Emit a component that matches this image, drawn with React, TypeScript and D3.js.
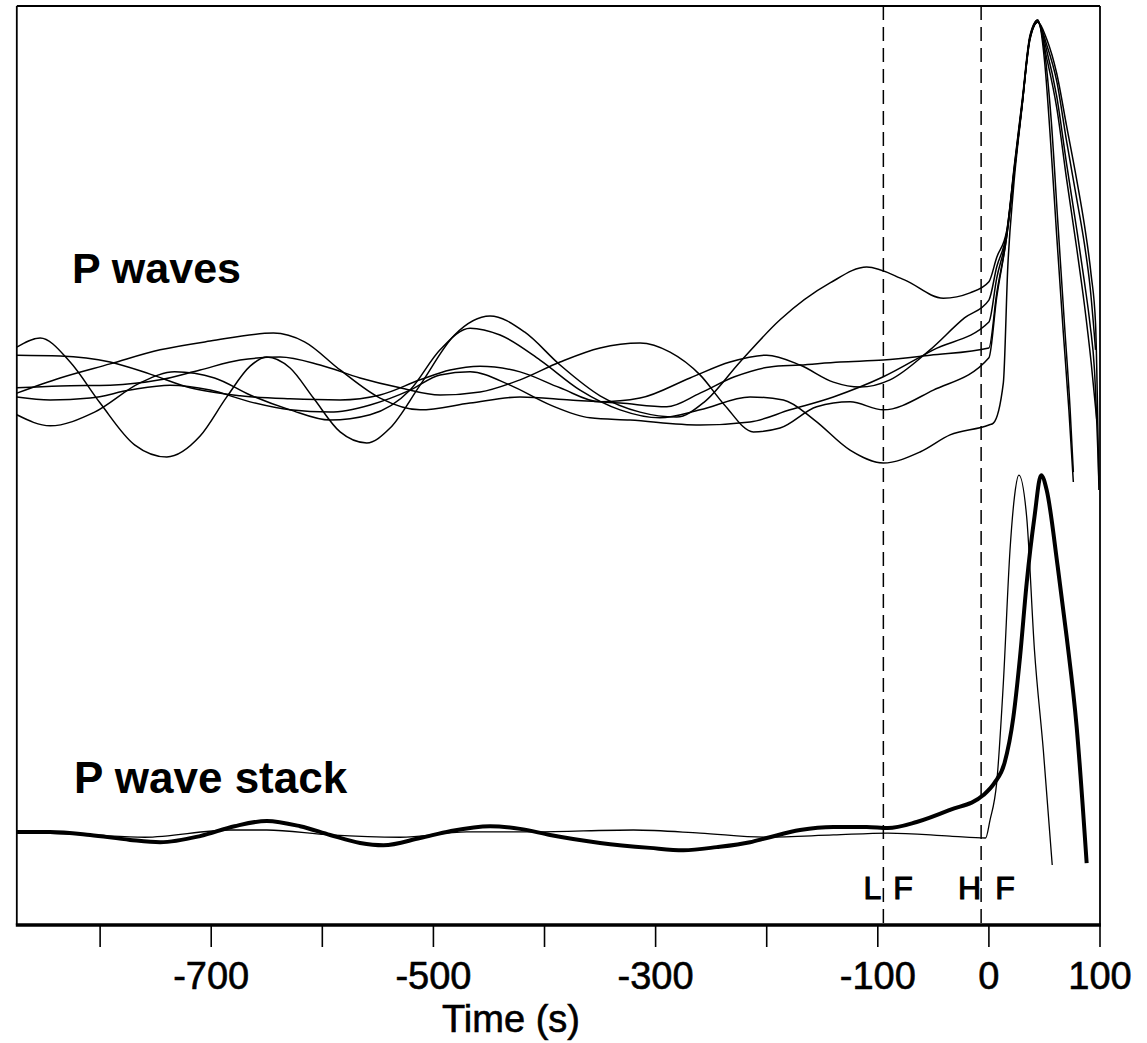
import React from "react";
import * as d3 from "d3";

// ---------- data (time in s, amplitude in % of peak) ----------
const T_MIN = -875;
const T_MAX = 100;
const AMP_MIN = -138.2;
const AMP_MAX = 103.7;
const STACK_OFFSET = -114;

const tickValues = [-800, -700, -600, -500, -400, -300, -200, -100, 0, 100];
const tickLabels = ["", "-700", "", "-500", "", "-300", "", "-100", "0", "100"];

const lowFilterTime = -95;
const highFilterTime = -7;

const traceA: [number, number][] = [
  [-875, 13.9], [-854, 16.3], [-827, 10.0], [-800, -0.8], [-769, -11.8], [-740, -15.0],
  [-710, -9.5], [-686, 0.8], [-665, 8.9], [-650, 11.3], [-629, 8.4], [-608, 0.5],
  [-584, -8.4], [-560, -11.3], [-539, -7.4], [-512, 3.9], [-481, 17.1], [-449, 22.1],
  [-418, 17.9], [-386, 9.2], [-350, 1.1], [-314, -3.2], [-281, -4.5], [-256, -0.5],
  [-224, 10.0], [-188, 21.1], [-143, 30.8], [-110, 35.0], [-76, 31.6], [-41, 26.8],
  [-17, 28.2], [0, 31.1], [7, 37.5], [16, 44.5], [23, 62], [30, 79], [37, 96],
  [44, 100], [50, 89.5], [55, 70.3], [61, 43.4], [67, 17.6], [72, -2.6], [76, -21.6],
];

const traceB: [number, number][] = [
  [-875, 1.8], [-836, 5.8], [-791, 9.5], [-746, 13.2], [-701, 15.5], [-644, 17.6],
  [-616, 15.3], [-584, 7.9], [-548, 0.5], [-512, -2.6], [-467, -0.8], [-422, 0.8],
  [-377, 0], [-332, -0.8], [-290, -1.8], [-260, 1.8], [-229, 6.1], [-197, 8.7],
  [-170, 9.2], [-134, 10.0], [-95, 10.5], [-53, 11.8], [0, 13.7], [7, 28], [16, 43],
  [23, 60.5], [30, 78], [37, 95], [44, 99.5], [52, 95], [61, 86], [70, 72],
  [79, 58], [86, 46], [92, 33], [96, 20], [99, -23.7],
];

const traceC: [number, number][] = [
  [-875, -3.9], [-845, -6.8], [-805, -3.2], [-764, 4.5], [-733, 7.4], [-697, 5.8],
  [-665, 1.3], [-629, -2.6], [-593, -5.3], [-557, -3.9], [-521, 2.6], [-494, 13.2],
  [-467, 18.9], [-440, 17.1], [-404, 10.5], [-368, 2.6], [-332, -2.6], [-296, -4.7],
  [-260, -2.6], [-215, 0.8], [-185, 0], [-157, -5.3], [-125, -13.2], [-95, -16.6],
  [-62, -13.7], [-35, -9.2], [0, -6.6], [4, -6.1], [13, 4.5], [17, 35], [22, 55.3],
  [30, 77.6], [37, 95.5], [44, 99.5], [52, 92], [61, 80], [70, 62], [79, 45],
  [86, 31], [91, 20], [95, 8], [99, -21.1],
];

const traceD: [number, number][] = [
  [-875, 11.8], [-836, 11.6], [-791, 10.0], [-755, 6.8], [-719, 3.2], [-674, 1.1],
  [-629, 0.3], [-584, 0], [-548, 1.3], [-512, 5.3], [-485, 7.9], [-458, 8.9],
  [-422, 7.4], [-386, 3.2], [-350, -0.5], [-314, 0.5], [-269, 5.8], [-233, 10.0],
  [-200, 11.8], [-170, 9.2], [-140, 4.7], [-116, 3.4], [-89, 5.3], [-53, 13.2],
  [-22, 21.6], [0, 26.3], [7, 35], [16, 44], [23, 61.5], [30, 78.5], [37, 95.5],
  [44, 100], [50, 92], [56, 74], [62, 47], [68, 20], [73, -2], [76, -19],
];

const traceE: [number, number][] = [
  [-875, 3.2], [-836, 3.7], [-791, 3.9], [-746, 5.3], [-710, 7.9], [-674, 10.5],
  [-638, 11.3], [-602, 9.2], [-566, 5.8], [-530, 3.2], [-494, 1.3], [-458, 2.1],
  [-422, 5.3], [-386, 10.0], [-350, 13.7], [-314, 15.0], [-287, 12.6], [-260, 6.6],
  [-238, -1.3], [-212, -8.4], [-188, -7.4], [-155, -1.8], [-125, -0.5], [-95, -2.6],
  [-50, 2.6], [0, 11.1], [7, 27], [16, 43], [23, 60.5], [30, 78], [37, 95],
  [44, 99.5], [52, 93.5], [61, 84], [70, 68], [79, 53], [86, 41], [91, 30],
  [96, 13.2],
];

const traceF: [number, number][] = [
  [-875, 0.8], [-845, 0], [-809, 0.5], [-773, 2.6], [-737, 3.9], [-701, 2.6],
  [-665, -0.5], [-629, -2.6], [-593, -3.2], [-557, -1.3], [-521, 2.6], [-494, 6.6],
  [-467, 7.4], [-431, 3.9], [-395, -1.3], [-359, -4.7], [-323, -5.3], [-260, -6.6],
  [-215, -5.8], [-179, -2.6], [-140, 0.8], [-95, 6.1], [-50, 13.2], [0, 20.5],
  [7, 32], [16, 43.5], [23, 61], [30, 78], [37, 95.5], [44, 99.5], [52, 90],
  [61, 77], [70, 58], [79, 40], [86, 25], [92, 10], [97, -5],
];

const stackThick: [number, number][] = [
  [-875, 0.3], [-845, 0.3], [-809, -0.5], [-773, -1.8], [-746, -2.4], [-710, -0.8],
  [-679, 1.8], [-650, 3.2], [-620, 1.8], [-593, -0.5], [-566, -2.6], [-545, -3.2],
  [-512, -1.3], [-485, 0.5], [-449, 1.8], [-422, 1.1], [-395, -0.5], [-350, -2.6],
  [-305, -3.9], [-275, -4.5], [-245, -3.7], [-215, -2.4], [-200, -1.3], [-170, 0.8],
  [-140, 1.6], [-110, 1.6], [-91, 1.3], [-65, 2.9], [-35, 6.1], [-5, 10.0],
  [5, 13.2], [14, 18.4], [22, 30.5], [28, 46.3], [34, 65.8], [41, 83.2],
  [47, 94.2], [52, 90.3], [62, 70.0], [70, 51.6], [79, 27.9], [88, -7.9],
];

const stackThin: [number, number][] = [
  [-875, 0.3], [-809, -0.5], [-760, -1.1], [-683, 0.8], [-650, 0.8], [-593, -0.5],
  [-530, -1.1], [-470, 0.3], [-410, 0.3], [-320, 0.8], [-260, 0], [-200, -1.1],
  [-140, -0.5], [-91, 0], [-35, -0.8], [-3, -1.3], [1, 3.4], [7, 13.2],
  [13, 39.5], [19, 74.5], [23, 88.5], [27, 94.2], [34, 83.2], [41, 48.2],
  [49, 21.8], [57, -8.4],
];

const pWaves = [traceA, traceB, traceC, traceD, traceE, traceF];

// ---------- layout ----------
const W = 1147;
const H = 1043;
const FONT = "'Liberation Sans', Arial, Helvetica, sans-serif";

export default function App() {
  const x = d3.scaleLinear().domain([T_MIN, T_MAX]).range([16.8, 1100]);
  const y = d3.scaleLinear().domain([AMP_MIN, AMP_MAX]).range([925, 6]);

  const line = d3
    .line<[number, number]>()
    .x((d) => x(d[0]))
    .y((d) => y(d[1]))
    .curve(d3.curveMonotoneX);

  const stackLine = d3
    .line<[number, number]>()
    .x((d) => x(d[0]))
    .y((d) => y(d[1] + STACK_OFFSET))
    .curve(d3.curveMonotoneX);

  const left = x(T_MIN);
  const right = x(T_MAX);
  const top = y(AMP_MAX);
  const bottom = y(AMP_MIN);
  const lf = x(lowFilterTime);
  const hf = x(highFilterTime);

  return (
    <svg
      width={W}
      height={H}
      viewBox={`0 0 ${W} ${H}`}
      style={{ position: "absolute", left: 0, top: 0, background: "#fff" }}
      fontFamily={FONT}
    >
      <rect x={0} y={0} width={W} height={H} fill="#fff" />
      {/* frame */}
      <line x1={left} y1={top} x2={right} y2={top} stroke="#000" strokeWidth={2} />
      <line x1={left} y1={top} x2={left} y2={bottom} stroke="#000" strokeWidth={1.8} />
      <line x1={right} y1={top} x2={right} y2={bottom} stroke="#000" strokeWidth={1.8} />

      {/* filter markers */}
      {[lf, hf].map((px, i) => (
        <line
          key={i}
          x1={px}
          y1={top}
          x2={px}
          y2={bottom}
          stroke="#000"
          strokeWidth={1.5}
          strokeDasharray="14,7"
        />
      ))}

      {/* P waves */}
      {pWaves.map((tr, i) => (
        <path key={i} d={line(tr) || ""} fill="none" stroke="#000" strokeWidth={1.5} />
      ))}

      {/* stack */}
      <path d={stackLine(stackThin) || ""} fill="none" stroke="#000" strokeWidth={1.3} />
      <path d={stackLine(stackThick) || ""} fill="none" stroke="#000" strokeWidth={4} />

      {/* bottom axis */}
      <line x1={left - 1} y1={bottom} x2={right + 1} y2={bottom} stroke="#000" strokeWidth={3.5} />
      {tickValues.map((t, i) => (
        <g key={t}>
          <line x1={x(t)} y1={bottom} x2={x(t)} y2={bottom + 22} stroke="#000" strokeWidth={1.6} />
          {tickLabels[i] && (
            <text
              x={x(t)}
              y={989}
              textAnchor="middle"
              fontSize={38}
              fill="#000"
              stroke="#000"
              strokeWidth={0.6}
            >
              {tickLabels[i]}
            </text>
          )}
        </g>
      ))}
      <text x={511} y={1032} textAnchor="middle" fontSize={38} fill="#000" stroke="#000" strokeWidth={0.6}>
        Time (s)
      </text>

      {/* filter labels */}
      <g fontSize={32} fill="#000" stroke="#000" strokeWidth={1.1}>
        <text x={lf - 2} y={899} textAnchor="end">L</text>
        <text x={lf + 10} y={899} textAnchor="start">F</text>
        <text x={hf} y={899} textAnchor="end">H</text>
        <text x={hf + 14} y={899} textAnchor="start">F</text>
      </g>

      {/* panel labels */}
      <text x={72} y={283} fontSize={43} fontWeight="bold" fill="#000">
        P waves
      </text>
      <text x={74} y={793} fontSize={44} fontWeight="bold" fill="#000">
        P wave stack
      </text>
    </svg>
  );
}
